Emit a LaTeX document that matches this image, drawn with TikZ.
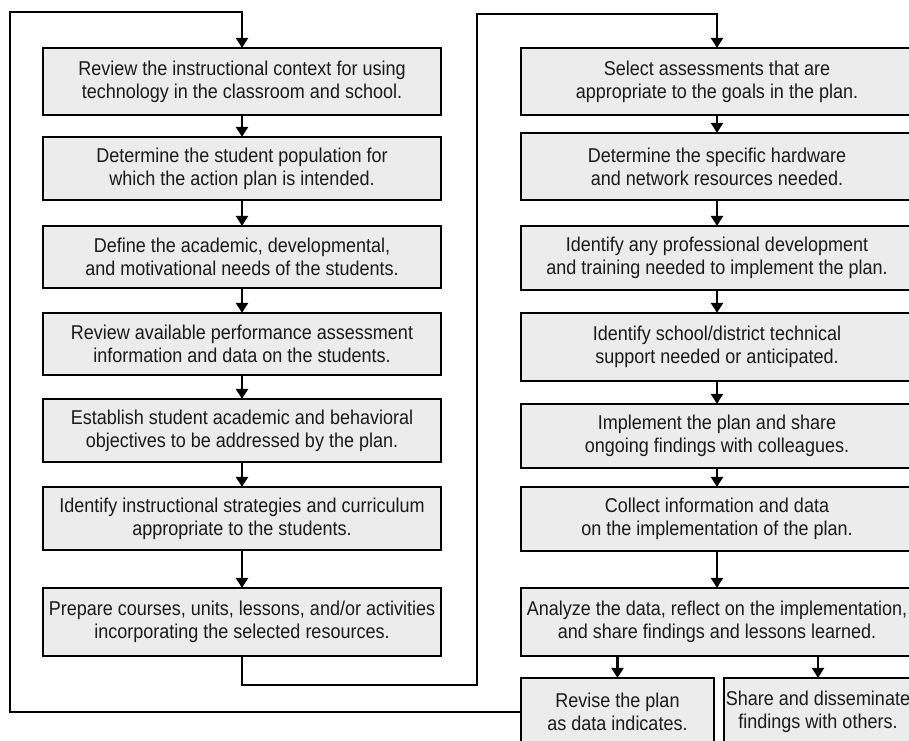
\documentclass[tikz,border=0pt]{standalone}
\usepackage{fontspec}
\setmainfont[FakeStretch=0.9]{Liberation Sans}
\usetikzlibrary{arrows.meta}
\definecolor{boxfill}{HTML}{ECECEC}
\definecolor{txt}{HTML}{1A1A1A}
\tikzset{
  box/.style={draw=black, line width=1.3pt, fill=boxfill, text=txt, align=center,
    inner sep=0pt, font=\fontsize{20}{23}\selectfont},
  boxL/.style={box, minimum width=398pt},
  boxR/.style={box, minimum width=392pt},
  conn/.style={line width=2.6pt, draw=black},
  arr/.style={conn, -{Triangle[length=10pt,width=12pt]}, shorten >=-0.5pt}
}
\begin{document}
\begin{tikzpicture}[x=1pt,y=-1pt]
\useasboundingbox (0,0) rectangle (909,740);
\clip (0,0) rectangle (909,740);
\fill[white] (0,0) rectangle (909,740);
% left column
\node[boxL, minimum height=67pt] (l1) at (242,81.5) {Review the instructional context for using\\technology in the classroom and school.};
\node[boxL, minimum height=63pt] (l2) at (242,168.5) {Determine the student population for\\which the action plan is intended.};
\node[boxL, minimum height=62pt] (l3) at (242,257) {Define the academic, developmental,\\and motivational needs of the students.};
\node[boxL, minimum height=62pt] (l4) at (242,344) {Review available performance assessment\\information and data on the students.};
\node[boxL, minimum height=63pt] (l5) at (242,430.5) {Establish student academic and behavioral\\objectives to be addressed by the plan.};
\node[boxL, minimum height=63pt] (l6) at (242,518.5) {Identify instructional strategies and curriculum\\appropriate to the students.};
\node[boxL, minimum height=68pt] (l7) at (242,622) {Prepare courses, units, lessons, and/or activities\\incorporating the selected resources.};
% right column
\node[boxR, minimum height=67pt] (r1) at (717,81.5) {Select assessments that are\\appropriate to the goals in the plan.};
\node[boxR, minimum height=67pt] (r2) at (717,166.5) {Determine the specific hardware\\and network resources needed.};
\node[boxR, minimum height=64pt] (r3) at (717,258) {Identify any professional development\\and training needed to implement the plan.};
\node[boxR, minimum height=68pt] (r4) at (717,347) {Identify school/district technical\\support needed or anticipated.};
\node[boxR, minimum height=64pt] (r5) at (717,436) {Implement the plan and share\\ongoing findings with colleagues.};
\node[boxR, minimum height=64pt] (r6) at (717,519) {Collect information and data\\on the implementation of the plan.};
\node[boxR, minimum height=68pt] (r7) at (717,622) {Analyze the data, reflect on the implementation,\\and share findings and lessons learned.};
\node[box, minimum width=193pt, minimum height=68pt] (rev) at (617.5,712) {Revise the plan\\as data indicates.};
\node[box, minimum width=188pt, minimum height=68pt] (shr) at (818,712) {Share and disseminate\\findings with others.};
% column arrows
\foreach \a/\b in {l1/l2,l2/l3,l3/l4,l4/l5,l5/l6,l6/l7,r1/r2,r2/r3,r3/r4,r4/r5,r5/r6,r6/r7}
  \draw[arr] (\a.south) -- (\b.north);
\draw[arr] (r7.south -| rev.north) -- (rev.north);
\draw[arr] (r7.south -| shr.north) -- (shr.north);
% loops
\coordinate (lp1) at (10,12);
\draw[arr] (rev.west) -| (lp1) -| (l1.north);
\coordinate (lp2) at (477,685);
\coordinate (lp3) at (477,14);
\draw[arr] (l7.south) |- (lp2) -- (lp3) -| (r1.north);
\end{tikzpicture}
\end{document}
